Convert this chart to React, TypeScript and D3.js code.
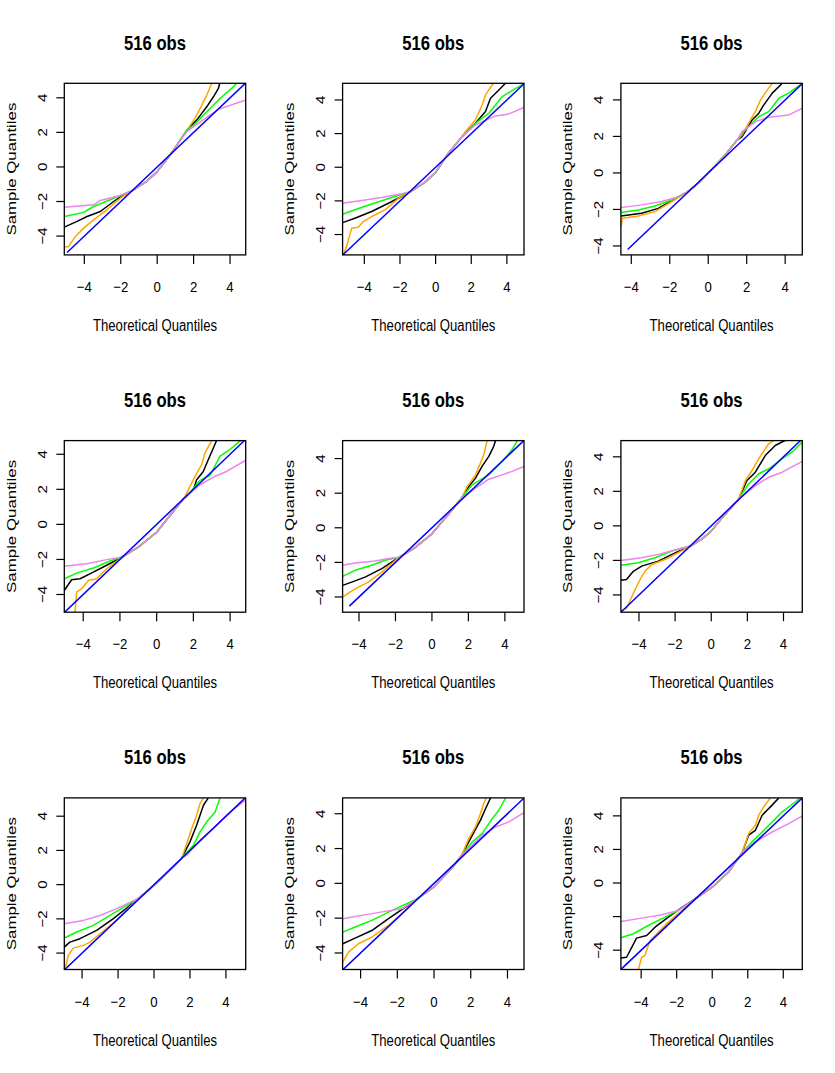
import React from 'react';
import * as d3 from 'd3';

// 3x3 grid of QQ plots, each "516 obs"
const panelTitle = '516 obs';
const xLabel = 'Theoretical Quantiles';
const yLabel = 'Sample Quantiles';
const ticks = [-4, -2, 0, 2, 4];
const hiddenYLabels = [[], [], [], [], [], [], [], [], [-2]];

const xDomains = [
  [-5.1, 4.86], [-5.22, 4.96], [-4.54, 4.89],
  [-5.03, 4.85], [-4.9, 5.05], [-5.0, 5.04],
  [-4.99, 5.1], [-4.98, 4.9], [-5.14, 5.07],
];
const yDomains = [
  [-5.09, 4.84], [-5.21, 4.99], [-4.49, 4.91],
  [-5.01, 4.78], [-4.88, 5.04], [-5.0, 4.94],
  [-4.96, 5.07], [-4.95, 4.91], [-5.15, 5.07],
];

// y = x reference segment (start, end)
const refLine = [
  [-4.95, 4.9], [-5.2, 5.0], [-4.19, 4.95],
  [-5.05, 4.85], [-4.53, 5.05], [-5.0, 5.0],
  [-5.0, 5.1], [-4.97, 4.92], [-5.14, 5.07],
];

// shared middle stretch where all four curves overlap
const midPoints = [
  [[-1.39, -1.38], [-0.6, -0.85], [0, -0.27], [0.71, 0.69], [1.2, 1.45]],
  [[-1.4, -1.45], [-0.6, -0.9], [0, -0.3], [0.73, 0.85], [1.48, 1.82]],
  [[-1.1, -1.05], [-0.5, -0.55], [0, 0.0], [0.89, 1.0], [1.5, 1.8]],
  [[-1.88, -1.86], [-1.0, -1.3], [0, -0.45], [0.91, 0.75], [1.5, 1.5]],
  [[-1.8, -1.7], [-1.0, -1.2], [0, -0.35], [1.0, 0.9], [1.65, 1.75]],
  [[-1.1, -1.15], [-0.5, -0.75], [0, -0.3], [0.78, 0.68], [1.52, 1.56]],
  [[-0.87, -0.8], [0, -0.05], [1.08, 1.03], [1.54, 1.55]],
  [[-0.93, -0.9], [0, -0.2], [0.98, 0.88], [1.5, 1.6]],
  [[-0.96, -0.95], [0, -0.25], [0.92, 0.66], [1.68, 1.8]],
];

// tails (lower + upper) of each series, per panel
const blackTails = [
  [[-5.1, -3.48], [-4.4, -3.15], [-3.85, -2.87], [-3.12, -2.58], [-2.39, -2.0], [-1.9, -1.65], [1.63, 2.13], [2.17, 2.71], [2.72, 3.48], [3.09, 4.06], [3.36, 4.54], [3.45, 4.9]],
  [[-5.22, -3.29], [-4.53, -3.03], [-3.59, -2.63], [-2.65, -2.14], [-1.9, -1.74], [2.23, 2.61], [2.8, 3.31], [3.08, 4.1], [3.55, 4.59], [3.92, 4.99], [4.1, 5.1]],
  [[-4.54, -2.36], [-3.46, -2.21], [-2.6, -1.94], [-1.81, -1.48], [1.76, 1.99], [2.28, 2.9], [2.63, 3.27], [2.89, 3.73], [3.33, 4.37], [3.85, 4.91]],
  [[-5.03, -3.77], [-4.63, -3.16], [-4.17, -3.1], [-3.45, -2.72], [-2.72, -2.33], [2.0, 1.97], [2.18, 2.55], [2.54, 3.02], [2.81, 3.69], [3.09, 4.36], [3.27, 4.8]],
  [[-4.9, -3.33], [-4.4, -3.14], [-3.67, -2.85], [-2.75, -2.36], [2.02, 2.38], [2.39, 2.87], [2.75, 3.55], [3.12, 4.13], [3.39, 4.71], [3.49, 5.05]],
  [[-5.0, -3.15], [-4.69, -3.11], [-4.31, -2.63], [-3.85, -2.33], [-2.93, -2.04], [-2.0, -1.56], [1.98, 2.63], [2.44, 3.11], [3.0, 4.09], [3.56, 4.67], [4.11, 4.96], [4.3, 5.0]],
  [[-4.99, -3.65], [-4.68, -3.36], [-4.12, -3.16], [-3.19, -2.67], [-2.26, -1.99], [-1.5, -1.35], [2.0, 2.5], [2.37, 3.47], [2.75, 4.64], [3.02, 5.07]],
  [[-4.97, -3.47], [-4.3, -3.15], [-3.39, -2.71], [-2.48, -2.03], [-1.6, -1.4], [2.08, 2.76], [2.53, 3.63], [2.81, 4.3], [3.08, 4.91]],
  [[-5.14, -4.46], [-4.82, -4.42], [-4.26, -3.28], [-3.69, -3.12], [-3.22, -2.63], [-2.47, -2.03], [-1.7, -1.45], [2.05, 2.85], [2.43, 3.14], [2.81, 4.04], [3.37, 4.64], [3.75, 5.07]],
];

const orangeTails = [
  [[-5.1, -4.63], [-4.86, -4.6], [-4.49, -4.02], [-4.04, -3.54], [-3.49, -3.06], [-2.76, -2.48], [-2.03, -1.81], [1.63, 2.13], [2.08, 2.81], [2.45, 3.58], [2.72, 4.16], [3.0, 4.84]],
  [[-5.18, -5.21], [-5.0, -4.71], [-4.71, -3.62], [-4.34, -3.56], [-4.06, -3.23], [-3.59, -2.93], [-2.84, -2.53], [-2.08, -1.84], [1.67, 2.12], [2.23, 2.81], [2.61, 3.7], [2.8, 4.3], [3.17, 4.89], [3.3, 5.0]],
  [[-4.54, -2.98], [-4.46, -2.48], [-3.63, -2.36], [-2.77, -2.12], [-1.9, -1.57], [1.76, 2.08], [2.19, 2.9], [2.45, 3.36], [2.72, 4.0], [3.07, 4.55], [3.33, 4.91]],
  [[-4.45, -5.01], [-4.36, -3.87], [-4.08, -3.67], [-3.72, -3.2], [-3.27, -3.1], [-2.72, -2.53], [1.72, 1.97], [2.09, 2.74], [2.45, 3.41], [2.63, 4.08], [3.0, 4.78]],
  [[-4.9, -4.01], [-4.5, -3.72], [-4.04, -3.43], [-3.49, -3.14], [-2.75, -2.56], [1.93, 2.38], [2.39, 3.06], [2.66, 3.74], [2.84, 4.22], [3.03, 5.04]],
  [[-5.0, -4.92], [-4.69, -4.77], [-4.22, -3.7], [-3.94, -3.11], [-3.67, -2.63], [-3.3, -2.24], [-2.56, -1.95], [1.89, 2.63], [2.26, 3.21], [2.63, 3.89], [3.19, 4.77], [3.46, 4.94]],
  [[-4.95, -4.96], [-4.77, -4.14], [-4.49, -3.71], [-3.93, -3.55], [-3.56, -3.36], [-3.0, -2.87], [-2.08, -2.09], [1.82, 2.4], [2.1, 3.28], [2.37, 4.06], [2.56, 4.74], [2.75, 5.07]],
  [[-4.97, -4.53], [-4.66, -3.95], [-4.12, -3.47], [-3.39, -3.09], [-2.48, -2.42], [-1.75, -1.75], [1.89, 2.57], [2.26, 3.24], [2.53, 4.01], [2.71, 4.59], [2.84, 4.91]],
  [[-4.16, -5.15], [-3.97, -4.42], [-3.79, -4.32], [-3.5, -3.42], [-3.22, -3.12], [-2.47, -2.33], [2.05, 2.95], [2.43, 3.44], [2.62, 4.04], [2.9, 4.54], [3.28, 5.07]],
];

const greenTails = [
  [[-5.1, -2.87], [-4.04, -2.63], [-3.49, -2.29], [-2.58, -1.9], [1.63, 2.13], [2.0, 2.42], [2.72, 3.19], [3.45, 3.96], [4.18, 4.63], [4.35, 4.84]],
  [[-5.22, -2.79], [-4.53, -2.53], [-3.59, -2.18], [-2.46, -1.8], [2.23, 2.61], [2.99, 3.21], [3.74, 4.2], [4.49, 4.69], [4.96, 4.95]],
  [[-4.54, -2.17], [-3.63, -2.03], [-2.77, -1.81], [-1.9, -1.48], [1.76, 2.17], [2.28, 2.72], [2.63, 3.09], [3.15, 3.36], [3.67, 4.09], [4.19, 4.37], [4.89, 4.91]],
  [[-5.03, -3.1], [-4.36, -2.78], [-3.45, -2.49], [-2.54, -2.09], [1.63, 1.59], [2.36, 2.51], [2.9, 2.78], [3.45, 3.89], [3.99, 4.27], [4.54, 4.75], [4.7, 4.8]],
  [[-4.9, -2.81], [-4.22, -2.46], [-3.3, -2.17], [-2.57, -1.88], [2.2, 2.48], [3.12, 3.06], [3.85, 3.84], [4.4, 4.52], [4.68, 5.04]],
  [[-5.0, -2.28], [-4.04, -2.14], [-3.11, -1.85], [-2.19, -1.46], [2.07, 2.43], [2.63, 3.02], [3.19, 3.31], [3.93, 3.89], [4.48, 4.28], [5.04, 4.86]],
  [[-4.99, -3.12], [-4.3, -2.77], [-3.38, -2.38], [-2.45, -1.8], [2.19, 2.3], [2.56, 3.08], [2.93, 3.67], [3.4, 4.25], [3.67, 5.07]],
  [[-4.97, -2.8], [-4.3, -2.51], [-3.39, -2.13], [-2.48, -1.65], [2.08, 2.38], [2.62, 2.86], [3.17, 3.72], [3.53, 4.2], [3.9, 4.91]],
  [[-5.14, -3.26], [-4.44, -3.02], [-3.6, -2.53], [-2.66, -2.03], [-1.9, -1.63], [2.24, 2.45], [2.81, 3.04], [3.37, 3.64], [3.94, 4.24], [4.69, 4.84], [4.95, 5.07]],
];

const violetTails = [
  [[-5.1, -2.33], [-3.49, -2.19], [-3.12, -1.94], [-2.03, -1.65], [1.63, 2.04], [2.0, 2.33], [2.72, 2.87], [3.36, 3.33], [4.86, 3.87]],
  [[-5.22, -2.14], [-4.15, -1.98], [-3.02, -1.8], [-1.9, -1.58], [2.23, 2.51], [3.36, 3.05], [4.11, 3.17], [4.96, 3.56]],
  [[-4.54, -1.9], [-3.46, -1.75], [-2.42, -1.57], [-1.55, -1.3], [1.76, 2.26], [2.45, 2.81], [3.15, 3.05], [4.19, 3.18], [4.89, 3.54]],
  [[-5.03, -2.39], [-3.81, -2.24], [-2.72, -2.01], [2.36, 2.26], [3.09, 2.7], [3.81, 3.02], [4.85, 3.66]],
  [[-4.9, -2.17], [-4.22, -2.03], [-3.12, -1.92], [-2.39, -1.78], [2.39, 2.29], [3.12, 2.81], [3.85, 3.06], [4.4, 3.26], [5.05, 3.55]],
  [[-5.0, -2.0], [-3.85, -1.85], [-2.93, -1.65], [-2.0, -1.4], [2.44, 2.33], [3.19, 2.82], [3.93, 3.11], [5.04, 3.74]],
  [[-4.99, -2.28], [-3.93, -2.09], [-3.0, -1.8], [-2.08, -1.4], [1.82, 1.72], [2.56, 2.6], [3.3, 3.28], [4.04, 4.06], [4.6, 4.55], [5.1, 4.94]],
  [[-4.97, -2.03], [-3.93, -1.84], [-2.66, -1.61], [-1.75, -1.46], [1.89, 2.0], [2.62, 2.76], [3.35, 3.24], [4.08, 3.53], [4.9, 4.07]],
  [[-5.14, -2.29], [-3.97, -2.09], [-2.84, -1.89], [-1.9, -1.63], [2.43, 2.45], [3.37, 3.04], [4.31, 3.54], [5.07, 4.0]],
];

const series = [
  { tails: blackTails, color: '#000000' },
  { tails: orangeTails, color: '#FFA500' },
  { tails: greenTails, color: '#00FF00' },
  { tails: violetTails, color: '#EE82EE' },
];

const FONT = '"Liberation Sans", Arial, Helvetica, sans-serif';
const colLeft = 64.3;
const colStep = 278.3;
const boxW = 181.4;
const rowTop = 83.3;
const rowStep = 357.3;
const boxH = 171.6;

const fmt = (t: number) => (t < 0 ? '\u2212' + Math.abs(t) : String(t));

function Panel({ i }: { i: number }) {
  const r = Math.floor(i / 3);
  const c = i % 3;
  const x0 = colLeft + c * colStep;
  const y0 = rowTop + r * rowStep;
  const x = d3.scaleLinear().domain(xDomains[i]).range([x0, x0 + boxW]);
  const y = d3.scaleLinear().domain(yDomains[i]).range([y0 + boxH, y0]);
  const line = d3.line<number[]>().x(d => x(d[0])).y(d => y(d[1]));
  const cx = x0 + boxW / 2;
  const cy = y0 + boxH / 2;
  const bottom = y0 + boxH;
  const clipId = `clip-${i}`;

  return (
    <g>
      <clipPath id={clipId}>
        <rect x={x0} y={y0} width={boxW} height={boxH} />
      </clipPath>

      <text x={cx} y={y0 - 33.8} textAnchor="middle" fontFamily={FONT} fontWeight="bold"
        fontSize={20} textLength={62} lengthAdjust="spacingAndGlyphs">{panelTitle}</text>

      <g clipPath={`url(#${clipId})`} fill="none" strokeWidth={1.5} strokeLinejoin="round">
        {series.map((s, k) => {
          const pts = [...s.tails[i], ...midPoints[i]].sort((a, b) => a[0] - b[0]);
          return <path key={k} d={line(pts) || ''} stroke={s.color} />;
        })}
        <path d={line([[refLine[i][0], refLine[i][0]], [refLine[i][1], refLine[i][1]]]) || ''} stroke="#0000FF" />
      </g>

      <rect x={x0} y={y0} width={boxW} height={boxH} fill="none" stroke="#000" strokeWidth={1.3} />

      {/* x axis */}
      {ticks.map(t => (
        <g key={'x' + t}>
          <line x1={x(t)} x2={x(t)} y1={bottom} y2={bottom + 9} stroke="#000" strokeWidth={1.2} />
          <text transform={`translate(${x(t)},${bottom + 37}) scale(0.88,1)`} textAnchor="middle"
            fontFamily={FONT} fontSize={15}>{fmt(t)}</text>
        </g>
      ))}
      <text x={cx} y={bottom + 76} textAnchor="middle" fontFamily={FONT} fontSize={16}
        textLength={124} lengthAdjust="spacingAndGlyphs">{xLabel}</text>

      {/* y axis */}
      {ticks.map(t => (
        <g key={'y' + t}>
          <line x1={x0 - 8} x2={x0} y1={y(t)} y2={y(t)} stroke="#000" strokeWidth={1.2} />
          {!hiddenYLabels[i].includes(t) && (
            <text transform={`translate(${x0 - 17.6},${y(t)}) scale(0.88,1) rotate(-90)`} textAnchor="middle"
              fontFamily={FONT} fontSize={15}>{fmt(t)}</text>
          )}
        </g>
      ))}
      <text transform={`translate(${x0 - 48.5},${cy}) scale(0.85,1) rotate(-90)`} textAnchor="middle"
        fontFamily={FONT} fontSize={16} textLength={133} lengthAdjust="spacingAndGlyphs">{yLabel}</text>
    </g>
  );
}

export default function App() {
  return (
    <svg width={835} height={1073} style={{ position: 'absolute', left: 0, top: 0, background: '#fff' }}>
      <rect width={835} height={1073} fill="#fff" />
      {d3.range(9).map(i => <Panel key={i} i={i} />)}
    </svg>
  );
}
